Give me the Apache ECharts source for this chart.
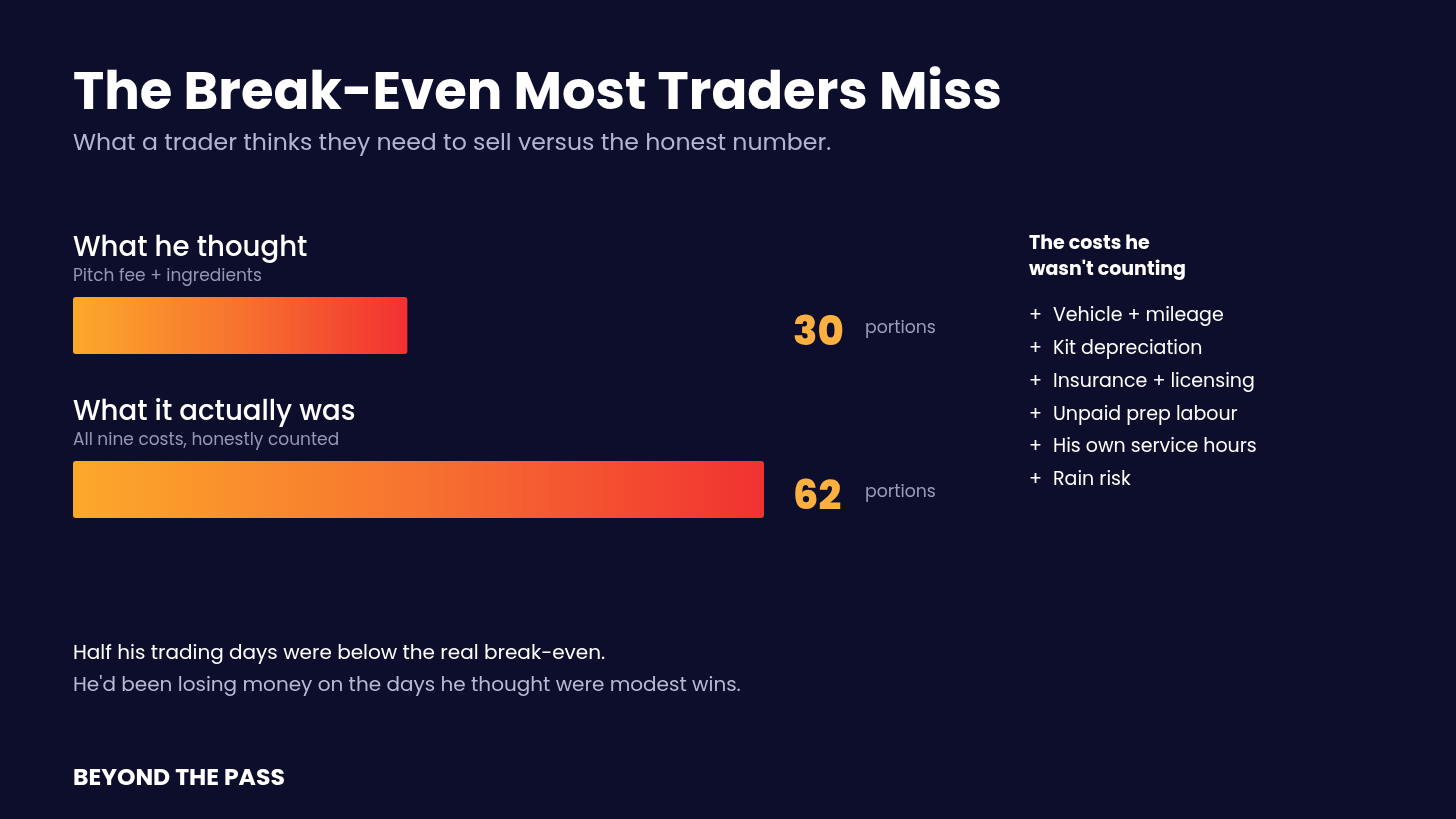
<!DOCTYPE html>
<html>
<head>
<meta charset="utf-8">
<script src="https://cdn.jsdelivr.net/npm/echarts@6/dist/echarts.min.js"></script>
<style>
  html, body { margin: 0; padding: 0; background: #0c0e2b; }
  #container { width: 1456px; height: 819px; }
</style>
</head>
<body>
<div id="container"></div>
<script>
// data
var categories = ['What he thought', 'What it actually was'];
var subtitles = ['Pitch fee + ingredients', 'All nine costs, honestly counted'];
var portions = [30, 62];
var unit = 'portions';
var hiddenCosts = ['Vehicle + mileage', 'Kit depreciation', 'Insurance + licensing', 'Unpaid prep labour', 'His own service hours', 'Rain risk'];
var footLines = ['Half his trading days were below the real break-even.', "He'd been losing money on the days he thought were modest wins."];

var FONT = "Poppins, 'Noto Sans', sans-serif";
var chart = echarts.init(document.getElementById('container'));

var listGraphics = [];
listGraphics.push({
	type: 'text', left: 1029, top: 231,
	style: { text: 'The costs he\nwasn\'t counting', fill: '#ffffff', font: 'bold 19px ' + FONT, lineHeight: 26 }
});
for (var i = 0; i < hiddenCosts.length; i++) {
	listGraphics.push({ type: 'text', left: 1029, top: 307 + i * 32.8,
		style: { text: '+', fill: '#ffffff', font: '19px ' + FONT } });
	listGraphics.push({ type: 'text', left: 1053, top: 307 + i * 32.8,
		style: { text: hiddenCosts[i], fill: '#ffffff', font: '19px ' + FONT } });
}
listGraphics.push({ type: 'text', left: 73, top: 644,
	style: { text: footLines[0], fill: '#ffffff', font: '20px ' + FONT } });
listGraphics.push({ type: 'text', left: 73, top: 676,
	style: { text: footLines[1], fill: '#b9bbd3', font: '20px ' + FONT } });
listGraphics.push({ type: 'text', left: 73, top: 767,
	style: { text: 'BEYOND THE PASS', fill: '#ffffff', font: 'bold 23.5px ' + FONT } });

var option = {
	backgroundColor: '#0c0e2b',
	animation: false,
	title: {
		text: 'The Break-Even Most Traders Miss',
		subtext: 'What a trader thinks they need to sell versus the honest number.',
		left: 68, top: 64,
		itemGap: 10,
		textStyle: { color: '#ffffff', fontSize: 52.8, fontWeight: 'bold', fontFamily: FONT },
		subtextStyle: { color: '#b4b6d0', fontSize: 23.6, fontFamily: FONT }
	},
	grid: { left: 73, right: 1456 - 764, top: 243.5, bottom: 819 - 571.5, containLabel: false },
	xAxis: { type: 'value', min: 0, max: 62, show: false },
	yAxis: [{
		type: 'category', inverse: true, data: categories,
		axisLine: { show: false }, axisTick: { show: false }, splitLine: { show: false },
		axisLabel: {
			inside: true, margin: 0, align: 'left', verticalAlign: 'bottom',
			padding: [0, 0, 37, 0],
			formatter: function (val, idx) { return '{t|' + val + '}\n{s|' + subtitles[idx] + '}'; },
			rich: {
				t: { color: '#ffffff', fontSize: 27.6, fontWeight: 500, fontFamily: FONT, lineHeight: 31 },
				s: { color: '#9597b3', fontSize: 17, fontFamily: FONT, lineHeight: 24 }
			}
		}
	}, {
		type: 'category', inverse: true, position: 'right', data: categories,
		axisLine: { show: false }, axisTick: { show: false }, splitLine: { show: false },
		axisLabel: {
			margin: 29, align: 'left',
			formatter: function (val, idx) { return '{v|' + portions[idx] + '}{u|' + unit + '}'; },
			rich: {
				v: { color: '#fbb040', fontSize: 40, fontWeight: 800, fontFamily: FONT, width: 72, padding: [18, 0, 0, 0] },
				u: { color: '#9a9cb8', fontSize: 17.3, fontFamily: FONT, padding: [6, 0, 0, 0] }
			}
		}
	}],
	series: [{
		type: 'bar', data: portions, barWidth: 57,
		itemStyle: {
			borderRadius: 3,
			color: new echarts.graphic.LinearGradient(0, 0, 1, 0, [
				{ offset: 0, color: '#fca92a' },
				{ offset: 0.5, color: '#f7722f' },
				{ offset: 1, color: '#f23132' }
			])
		}
	}],
	graphic: listGraphics
};
chart.setOption(option);
</script>
</body>
</html>
